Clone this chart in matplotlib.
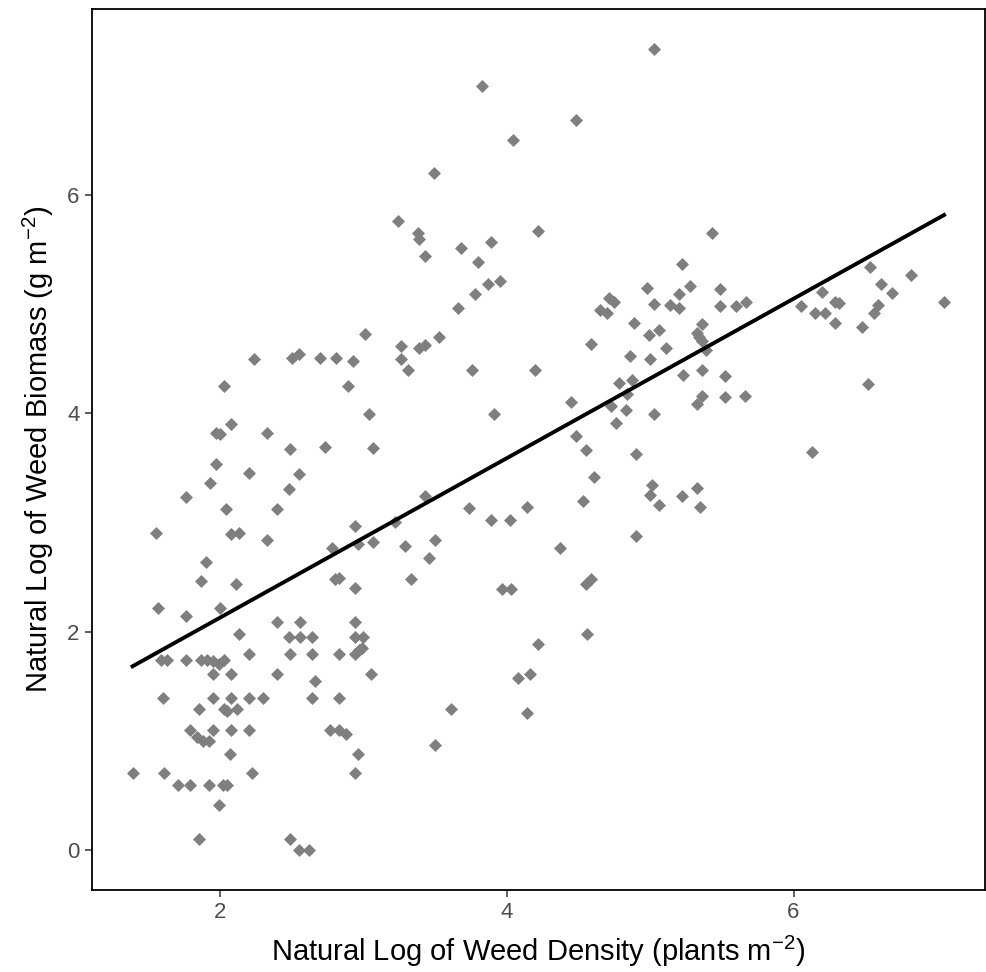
import numpy as np
import matplotlib
matplotlib.use("Agg")
import matplotlib.pyplot as plt


# ln weed density (plants m-2)
log_density = [
    5.03, 3.83, 4.48, 4.04, 3.49, 3.24, 3.38, 3.39, 4.22, 3.68,
    3.89, 3.43, 3.80, 3.87, 3.95, 3.78, 3.66, 5.22, 4.98, 5.28,
    4.71, 4.75, 4.65, 4.70, 5.03, 5.20, 5.14, 5.20, 5.43, 5.49,
    5.49, 5.60, 5.67, 6.53, 6.61, 6.69, 6.82, 6.20, 6.05, 6.29,
    6.32, 6.59, 7.05, 6.15, 6.22, 6.29, 6.48, 6.56, 5.36, 5.33,
    5.34, 5.36, 5.39, 5.36, 5.52, 5.36, 5.33, 5.52, 5.66, 6.52,
    6.13, 5.33, 5.35, 4.89, 4.99, 5.06, 5.11, 4.86, 5.00, 4.59,
    5.23, 3.26, 3.26, 3.31, 3.39, 3.43, 3.53, 3.76, 4.20, 3.91,
    4.45, 4.78, 4.87, 4.84, 4.73, 4.83, 4.76, 5.03, 4.48, 4.55,
    4.90, 4.61, 5.01, 5.00, 5.06, 5.22, 4.53, 3.43, 3.74, 3.89,
    4.02, 4.14, 3.22, 3.29, 3.50, 3.46, 3.33, 4.37, 4.90, 3.97,
    4.03, 4.55, 4.59, 3.01, 2.24, 2.50, 2.55, 2.70, 2.81, 2.93,
    2.03, 2.89, 3.04, 2.08, 1.97, 2.00, 2.33, 2.49, 2.73, 3.07,
    1.97, 2.20, 2.55, 1.93, 2.48, 1.76, 2.04, 2.40, 1.55, 2.08,
    2.13, 2.33, 2.94, 2.78, 2.96, 3.07, 1.90, 1.87, 2.11, 2.80,
    2.83, 2.94, 1.57, 2.00, 1.76, 2.40, 2.56, 2.94, 2.13, 2.48,
    2.56, 2.64, 2.94, 3.00, 2.20, 2.49, 2.64, 2.83, 2.94, 2.97,
    2.99, 1.59, 1.63, 1.76, 1.87, 1.91, 1.95, 1.99, 2.03, 1.95,
    2.08, 2.40, 2.66, 3.05, 1.60, 1.95, 2.08, 2.20, 2.30, 2.64,
    2.83, 1.85, 2.03, 2.05, 2.12, 1.79, 1.95, 2.08, 2.20, 1.84,
    1.88, 1.92, 2.77, 2.83, 2.88, 2.07, 2.96, 1.39, 1.61, 2.22,
    2.94, 1.71, 1.79, 1.92, 2.02, 2.05, 1.99, 1.85, 2.49, 2.55,
    2.62, 4.56, 4.22, 4.08, 4.16, 3.61, 4.14, 3.50,
]

# ln weed biomass (g m-2)
log_biomass = [
    7.34, 7.00, 6.69, 6.51, 6.20, 5.76, 5.65, 5.60, 5.67, 5.52,
    5.57, 5.44, 5.39, 5.19, 5.21, 5.09, 4.97, 5.37, 5.15, 5.17,
    5.06, 5.02, 4.95, 4.92, 5.00, 5.09, 4.99, 4.97, 5.65, 5.14,
    4.98, 4.98, 5.02, 5.34, 5.19, 5.10, 5.27, 5.11, 4.98, 5.02,
    5.01, 4.99, 5.02, 4.92, 4.92, 4.83, 4.79, 4.92, 4.82, 4.74,
    4.70, 4.66, 4.58, 4.40, 4.34, 4.16, 4.09, 4.15, 4.16, 4.27,
    3.65, 3.32, 3.14, 4.83, 4.72, 4.76, 4.60, 4.53, 4.50, 4.64,
    4.35, 4.62, 4.50, 4.40, 4.60, 4.63, 4.70, 4.40, 4.40, 3.99,
    4.10, 4.28, 4.31, 4.18, 4.07, 4.03, 3.91, 3.99, 3.79, 3.66,
    3.63, 3.42, 3.34, 3.25, 3.16, 3.24, 3.20, 3.24, 3.13, 3.02,
    3.02, 3.14, 3.00, 2.78, 2.84, 2.67, 2.48, 2.77, 2.88, 2.39,
    2.39, 2.44, 2.48, 4.73, 4.50, 4.51, 4.54, 4.51, 4.51, 4.48,
    4.25, 4.25, 3.99, 3.90, 3.82, 3.81, 3.82, 3.67, 3.69, 3.68,
    3.54, 3.45, 3.44, 3.36, 3.31, 3.23, 3.12, 3.12, 2.90, 2.89,
    2.90, 2.84, 2.97, 2.77, 2.80, 2.82, 2.64, 2.46, 2.44, 2.48,
    2.49, 2.40, 2.22, 2.22, 2.14, 2.09, 2.09, 2.09, 1.98, 1.95,
    1.95, 1.95, 1.95, 1.95, 1.79, 1.79, 1.79, 1.79, 1.79, 1.83,
    1.85, 1.74, 1.74, 1.74, 1.74, 1.74, 1.73, 1.70, 1.74, 1.61,
    1.61, 1.61, 1.55, 1.61, 1.39, 1.39, 1.39, 1.39, 1.39, 1.39,
    1.39, 1.29, 1.29, 1.27, 1.29, 1.10, 1.10, 1.10, 1.10, 1.03,
    1.00, 1.00, 1.10, 1.10, 1.06, 0.88, 0.88, 0.70, 0.70, 0.70,
    0.70, 0.59, 0.59, 0.59, 0.59, 0.59, 0.41, 0.10, 0.10, 0.00,
    0.00, 1.98, 1.89, 1.57, 1.61, 1.29, 1.25, 0.96,
]

# fitted lm line as drawn in the reference (intercept, slope)
fit_intercept = 0.665
fit_slope = 0.731

x_ticks = [2, 4, 6]
y_ticks = [0, 2, 4, 6]


def main():
    plt.rcParams["font.family"] = ["Liberation Sans", "DejaVu Sans"]
    plt.rcParams["mathtext.fontset"] = "custom"
    plt.rcParams["mathtext.rm"] = "Liberation Sans"

    x = np.array(log_density)
    y = np.array(log_biomass)

    fig = plt.figure(figsize=(9.87, 9.72), dpi=100)
    ax = fig.add_axes([0.0932, 0.0847, 0.9044, 0.906])

    ax.scatter(x, y, marker="D", s=44, color="#7f7f7f", linewidths=0, zorder=2)

    # line spans the data range, like geom_smooth(method = "lm", se = FALSE)
    xs = np.array([x.min(), x.max()])
    ax.plot(xs, fit_intercept + fit_slope * xs, color="black", linewidth=2.8, zorder=3)

    ax.set_xticks(x_ticks)
    ax.set_yticks(y_ticks)
    ax.tick_params(direction="out", length=5, width=1.1, color="#333333",
                   labelsize=16, labelcolor="#4d4d4d", pad=4)
    for sp in ax.spines.values():
        sp.set_color("black")
        sp.set_linewidth(1.3)

    ax.set_xlabel("Natural Log of Weed Density (plants m$^{-2}$)", fontsize=21, labelpad=8)
    ax.set_ylabel("Natural Log of Weed Biomass (g m$^{-2}$)", fontsize=21, labelpad=8)

    fig.savefig("out.png", dpi=100, facecolor="white")
    plt.close(fig)


if __name__ == "__main__":
    main()
